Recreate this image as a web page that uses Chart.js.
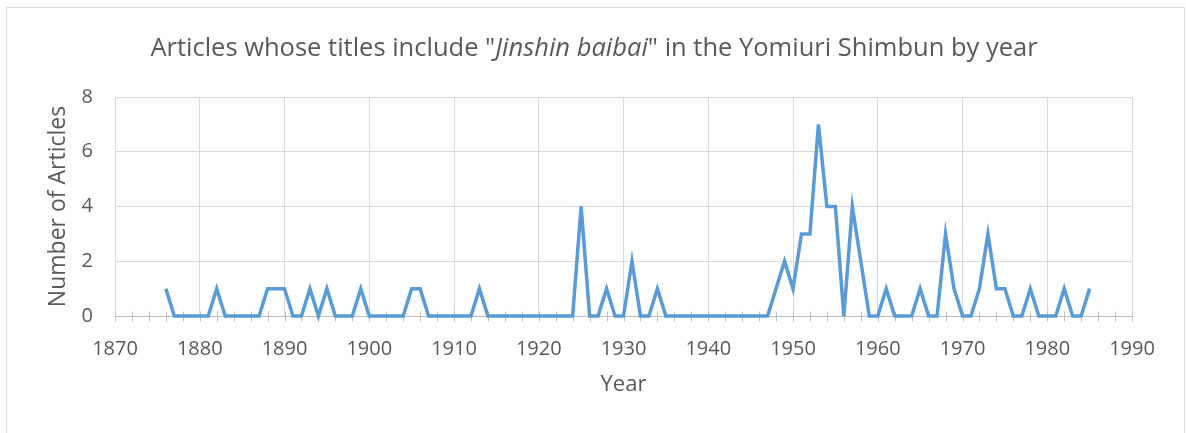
<!DOCTYPE html>
<html>
<head>
<meta charset="utf-8">
<script src="https://cdn.jsdelivr.net/npm/chart.js@4"></script>
<style>
html,body{margin:0;padding:0;background:#fff;}
#wrap{width:1186px;height:433px;position:relative;}
</style>
</head>
<body>
<div id="wrap"><canvas id="c" width="1186" height="433"></canvas></div>
<script>
const titleParts = ['Articles whose titles include "', 'Jinshin baibai', '" in the Yomiuri Shimbun by year'];
const xAxisTitle = 'Year';
const yAxisTitle = 'Number of Articles';
const years = [];
for (let y = 1876; y <= 1985; y++) years.push(y);
const articles = [
  1, 0, 0, 0, 0, 0, 1, 0, 0, 0, 0, 0, 1, 1, 1, 0, 0, 1, 0, 1,   // 1876-1895
  0, 0, 0, 1, 0, 0, 0, 0, 0, 1, 1, 0, 0, 0, 0, 0, 0, 1, 0, 0,   // 1896-1915
  0, 0, 0, 0, 0, 0, 0, 0, 0, 4, 0, 0, 1, 0, 0, 2, 0, 0, 1, 0,   // 1916-1935
  0, 0, 0, 0, 0, 0, 0, 0, 0, 0, 0, 0, 1, 2, 1, 3, 3, 7, 4, 4,   // 1936-1955
  0, 4, 2, 0, 0, 1, 0, 0, 0, 1, 0, 0, 3, 1, 0, 0, 1, 3, 1, 1,   // 1956-1975
  0, 0, 1, 0, 0, 0, 1, 0, 0, 1                                  // 1976-1985
];
const xMin = 1870, xMax = 1990, xMinorStep = 2, xMajorStep = 10;
const yMin = 0, yMax = 8, yStep = 2;

const FONT = "'Open Sans', 'DejaVu Sans', sans-serif";
const TEXT = '#595959';

const framePlugin = {
  id: 'frame',
  beforeDraw(chart) {
    const ctx = chart.ctx;
    ctx.save();
    ctx.fillStyle = '#fff';
    ctx.fillRect(0, 0, chart.width, chart.height);
    ctx.strokeStyle = '#d9d9d9';
    ctx.lineWidth = 1;
    ctx.strokeRect(6.5, 7.5, 1178, 440);
    ctx.restore();
  }
};

const richTitlePlugin = {
  id: 'richTitle',
  afterDraw(chart) {
    const ctx = chart.ctx;
    ctx.save();
    const size = 25.5;
    const fonts = [`${size}px ${FONT}`, `italic ${size}px ${FONT}`, `${size}px ${FONT}`];
    let total = 0;
    const widths = titleParts.map((t, i) => { ctx.font = fonts[i]; const w = ctx.measureText(t).width; total += w; return w; });
    let x = 594 - total / 2;
    ctx.fillStyle = TEXT;
    ctx.textBaseline = 'alphabetic';
    ctx.textAlign = 'left';
    titleParts.forEach((t, i) => { ctx.font = fonts[i]; ctx.fillText(t, x, 56); x += widths[i]; });
    ctx.restore();
  }
};

const crossTicksPlugin = {
  id: 'crossTicks',
  beforeDatasetsDraw(chart) {
    const xs = chart.scales.x, ys = chart.scales.y;
    const y0 = Math.round(ys.getPixelForValue(0)) + 0.5;
    const ctx = chart.ctx;
    ctx.save();
    ctx.strokeStyle = '#bfbfbf';
    ctx.lineWidth = 1;
    ctx.beginPath();
    for (let v = xMin; v <= xMax; v += xMinorStep) {
      const px = Math.round(xs.getPixelForValue(v)) + 0.5;
      ctx.moveTo(px, y0 - 5);
      ctx.lineTo(px, y0 + 5);
    }
    ctx.moveTo(xs.left, y0);
    ctx.lineTo(xs.right, y0);
    ctx.stroke();
    ctx.restore();
  }
};

new Chart(document.getElementById('c'), {
  type: 'scatter',
  data: {
    datasets: [{
      data: years.map((y, i) => ({ x: y, y: articles[i] })),
      showLine: true,
      borderColor: '#5b9bd5',
      backgroundColor: '#5b9bd5',
      borderWidth: 3.5,
      pointRadius: 0,
      pointHoverRadius: 0,
      tension: 0,
      clip: false
    }]
  },
  options: {
    responsive: false,
    animation: false,
    events: [],
    layout: { padding: { top: 97, left: 45, right: 54, bottom: 35 } },
    plugins: { legend: { display: false }, title: { display: false }, tooltip: { enabled: false } },
    scales: {
      x: {
        type: 'linear', min: xMin, max: xMax,
        afterFit(s) { s.height = 82; },
        ticks: {
          stepSize: xMinorStep, autoSkip: false, maxRotation: 0, minRotation: 0,
          color: TEXT, font: { family: FONT, size: 20 }, padding: 21,
          callback: v => (v % xMajorStep === 0 ? String(v) : '')
        },
        grid: {
          color: c => (c.tick && c.tick.value % xMajorStep === 0 ? '#d9d9d9' : 'rgba(0,0,0,0)'),
          drawTicks: false, lineWidth: 1
        },
        border: { display: true, color: '#bfbfbf' },
        title: { display: true, text: xAxisTitle, color: TEXT, font: { family: FONT, size: 22 }, padding: 0 }
      },
      y: {
        min: yMin, max: yMax,
        afterFit(s) { s.width = 70; },
        ticks: { stepSize: yStep, color: TEXT, font: { family: FONT, size: 20 }, padding: 22 },
        grid: { color: '#d9d9d9', drawTicks: false, lineWidth: 1 },
        border: { display: true, color: '#d9d9d9' },
        title: { display: true, text: yAxisTitle, color: TEXT, font: { family: FONT, size: 23 }, padding: 0 }
      }
    }
  },
  plugins: [framePlugin, richTitlePlugin, crossTicksPlugin]
});
</script>
</body>
</html>
